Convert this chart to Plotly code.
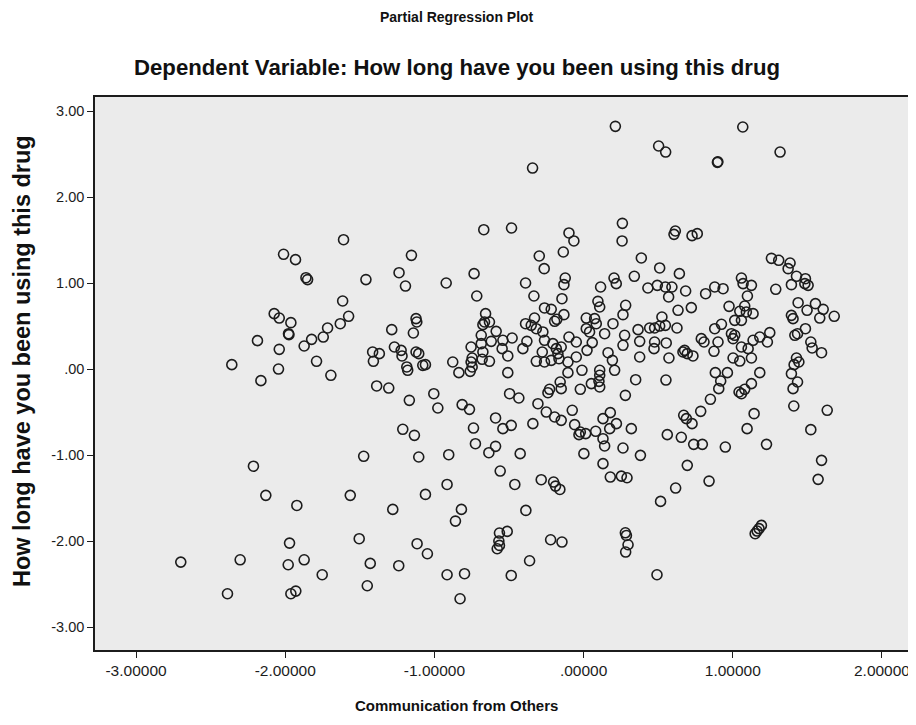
import plotly.graph_objects as go

# Communication from Others (partial residual, x) and
# How long have you been using this drug (partial residual, y)
x_vals = [
    -1.609, -2.011, -1.931, -1.861, -1.85, -1.459,
    0.213, -0.342, -0.669, -0.483, -0.098, -0.065, 0.260, 0.258, -1.154, -1.237, -0.734, -0.297, -0.264, -0.136, -0.123, 0.387, 0.340, 0.204,
    1.067, 0.503, 0.550, 0.897, 0.90, 1.317, 0.615, 0.606, 0.727, 0.762, 0.510, 0.642, 1.259, 1.308, 1.384, 1.371, 1.427, 1.487, 1.058,
    -1.615, -2.074, -2.040, -1.962, -1.978, -1.975, -2.186, -2.040, -2.358, -2.045, -2.163, -1.873, -1.823, -1.745, -1.716, -1.631, -1.575, -1.790, -1.694, -1.474,
    -2.213, -2.130, -1.922, -1.564, -1.971, -1.504, -2.700, -2.302, -1.980, -1.873, -1.752, -1.43, -1.45, -2.387, -1.962, -1.929,
    -0.559, -0.915, -1.060, -1.279, -0.819, -0.859, -0.461, -0.284, -0.201, -0.188, -0.159, -0.387, -0.564, -0.512, -0.568, -0.564, -0.579, -1.116, -1.047, -1.239, -0.221, -0.145, -0.362, -0.915, -0.798, -0.485, -0.828, 0.179, 0.253, 0.291, 0.280, 0.287, 0.298, 0.282,
    0.695, 0.841, 0.617, 0.516, 1.572, 1.595, 1.150, 1.163, 1.176, 1.192, 0.492,
    0.431, 0.494, 0.548, 0.592, 0.684, 0.818, 0.879, 0.935, 1.069, 1.125, 1.288, 1.393, 1.505, 1.483,
    0.570, 0.633, 0.722, 0.975, 1.098, 1.080, 1.047, 1.091, 1.136, 1.013, 1.058, 0.525,
    0.443, 0.476, 0.510, 0.548, 0.626, 0.879, 0.924, 0.991, 1.013, 1.002, 0.789, 0.807, 0.901, 0.874,
    0.476, 0.472, 0.554, 0.572, 0.666, 0.677, 0.695, 0.733,
    1.058, 1.103, 1.136, 1.181, 1.248, 1.232, 1.002, 1.047, 1.125,
    1.393, 1.404, 1.438, 1.498, 1.554, 1.606, 1.583, 1.680, 1.416, 1.434, 1.487, 1.523, 1.532, 1.595,
    1.427, 1.443, 1.411, 1.393, 1.434, 1.404, 1.409, 1.633, 1.523,
    0.552, 0.883, 0.964, 0.919, 0.906, 1.181, 1.125, 1.080, 1.042, 1.058, 0.850, 0.785, 1.143,
    0.671, 0.689, 0.727, 1.096, 0.561, 0.655, 0.738, 0.796, 0.950, 1.226,
    -1.194, -0.921, -0.389, -0.132, 0.114, 0.219, -0.716, -0.333, -0.145, 0.096, 0.108, 0.282, -0.262, -0.217, -0.132, 0.264,
    0.018, 0.074, 0.085, 0.197, 0.018, 0.040, 0.141, 0.365, 0.376, 0.376, 0.275, 0.264, 0.164, 0.193, 0.208,
    0.058, 0.023, -0.049, -0.049, -0.011, -0.098, -0.105, -0.105, 0.108, 0.108, 0.103, 0.108, 0.052, -0.022,
    -0.157, -0.150, -0.228, -0.239, 0.349, 0.280, -0.076, 0.179, 0.130, 0.220, 0.175, 0.320,
    -0.060, -0.022, -0.031, 0.014, 0.081, 0.130, 0.141, 0.264, 0.381, 0.002, 0.130,
    -0.306, -0.250, -0.194, -0.150, -0.340, -0.485, -0.541, -0.590, -0.738, -0.725, -0.590, -0.635, -0.425, -0.904, -1.105,
    -1.212, -1.134, -1.168, -1.004, -0.977, -0.814, -0.765, -1.387, -1.306, -0.496, -0.434, -0.508,
    -1.286, -1.123, -1.118, -1.141, -1.414, -1.369, -1.409, -1.268, -1.223, -1.217, -1.123, -1.105,
    -1.185, -1.179, -1.078, -1.060, -0.877, -0.836, -0.754, -0.747, -0.760, -0.747, -0.754,
    -0.675, -0.680, -0.631, -0.657, -0.664, -0.675, -0.631, -0.586, -0.686, -0.686, -0.619,
    -0.541, -0.546, -0.508, -0.479, -0.407, -0.380, -0.389, -0.329, -0.317, -0.351,
    -0.273, -0.262, -0.277, -0.194, -0.179, -0.206, -0.183, -0.172, -0.165, -0.150, -0.317, -0.262, -0.217,
]
y_vals = [
    1.504, 1.334, 1.272, 1.062, 1.04, 1.04,
    2.822, 2.337, 1.620, 1.640, 1.582, 1.489, 1.694, 1.489, 1.322, 1.120, 1.109, 1.314, 1.167, 1.361, 1.058, 1.291, 1.078, 1.058,
    2.814, 2.593, 2.523, 2.403, 2.41, 2.523, 1.605, 1.566, 1.551, 1.574, 1.175, 1.109, 1.287, 1.264, 1.233, 1.167, 1.078, 1.05, 1.058,
    0.791, 0.644, 0.593, 0.539, 0.411, 0.40, 0.330, 0.229, 0.051, 0.0, -0.135, 0.268, 0.345, 0.372, 0.477, 0.527, 0.613, 0.090, -0.073, -1.015,
    -1.13, -1.469, -1.586, -1.469, -2.024, -1.973, -2.245, -2.218, -2.276, -2.218, -2.392, -2.26, -2.52, -2.613, -2.613, -2.582,
    -1.186, -1.342, -1.458, -1.632, -1.632, -1.768, -1.342, -1.287, -1.314, -1.361, -1.400, -1.644, -1.907, -1.888, -2.000, -2.051, -2.090, -2.031, -2.148, -2.287, -1.985, -2.012, -2.229, -2.392, -2.380, -2.400, -2.671, -1.256, -1.245, -1.264, -1.904, -1.935, -2.043, -2.128,
    -1.12, -1.303, -1.384, -1.539, -1.283, -1.062, -1.915, -1.884, -1.856, -1.818, -2.392,
    0.942, 0.973, 0.954, 0.954, 0.907, 0.876, 0.954, 0.934, 0.993, 0.973, 0.927, 0.981, 0.973, 0.993,
    0.838, 0.683, 0.714, 0.729, 0.849, 0.733, 0.671, 0.663, 0.644, 0.566, 0.566, 0.605,
    0.477, 0.477, 0.500, 0.508, 0.477, 0.469, 0.520, 0.411, 0.392, 0.353, 0.353, 0.314, 0.314, 0.206,
    0.314, 0.237, 0.303, 0.128, 0.198, 0.217, 0.179, 0.152,
    0.256, 0.237, 0.334, 0.372, 0.423, 0.314, 0.128, 0.093, 0.128,
    0.624, 0.586, 0.771, 0.683, 0.760, 0.694, 0.593, 0.613, 0.392, 0.411, 0.469, 0.314, 0.245, 0.190,
    0.128, 0.082, 0.051, -0.054, -0.151, -0.228, -0.430, -0.480, -0.705,
    -0.128, -0.042, -0.042, -0.139, -0.228, -0.042, -0.170, -0.236, -0.267, -0.287, -0.352, -0.492, -0.519,
    -0.538, -0.577, -0.635, -0.693, -0.763, -0.794, -0.876, -0.876, -0.907, -0.876,
    0.965, 1.00, 1.00, 0.981, 0.954, 0.993, 0.849, 0.849, 0.818, 0.787, 0.721, 0.741, 0.710, 0.694, 0.632, 0.632,
    0.593, 0.586, 0.527, 0.527, 0.469, 0.431, 0.411, 0.458, 0.322, 0.140, 0.392, 0.276, 0.190, 0.101, -0.015,
    0.307, 0.217, 0.314, 0.140, -0.015, 0.372, 0.082, -0.042, -0.015, -0.073, -0.143, -0.209, -0.170, -0.236,
    -0.151, -0.228, -0.236, -0.275, -0.124, -0.306, -0.480, -0.507, -0.577, -0.635, -0.693, -0.693,
    -0.647, -0.732, -0.763, -0.751, -0.724, -0.810, -0.895, -0.918, -1.004, -0.984, -1.100,
    -0.403, -0.500, -0.558, -0.597, -0.635, -0.655, -0.693, -0.569, -0.686, -0.868, -0.899, -0.973, -0.984, -0.996, -1.023,
    -0.701, -0.771, -0.364, -0.287, -0.453, -0.414, -0.469, -0.197, -0.221, -0.287, -0.337, -0.042,
    0.458, 0.586, 0.547, 0.419, 0.198, 0.179, 0.090, 0.256, 0.217, 0.152, 0.198, 0.179,
    0.024, -0.015, 0.043, 0.051, 0.082, -0.042, 0.082, 0.024, -0.027, 0.128, 0.256,
    0.198, 0.113, 0.090, 0.644, 0.547, 0.516, 0.547, 0.438, 0.392, 0.295, 0.322,
    0.334, 0.237, 0.152, 0.361, 0.237, 0.322, 0.527, 0.593, 0.469, 0.508,
    0.431, 0.334, 0.198, 0.555, 0.578, 0.295, 0.237, 0.179, 0.120, 0.256, 0.090, 0.082, 0.101,
]

x_ticks = [-3, -2, -1, 0, 1, 2]
x_tick_text = ["-3.00000", "-2.00000", "-1.00000", ".00000", "1.00000", "2.00000"]
y_ticks = [-3, -2, -1, 0, 1, 2, 3]
y_tick_text = ["-3.00", "-2.00", "-1.00", ".00", "1.00", "2.00", "3.00"]

main_title = "Partial Regression Plot"
sub_title = "Dependent Variable: How long have you been using this drug"
x_title = "Communication from Others"
y_title = "How long have you been using this drug"

FONT = "Liberation Sans, Arial, sans-serif"
INK = "#1c1c1c"

fig = go.Figure()
fig.add_trace(go.Scatter(
    x=x_vals, y=y_vals, mode="markers",
    marker=dict(symbol="circle-open", size=10, color=INK, line=dict(width=1.6)),
    showlegend=False, hoverinfo="x+y",
))

axis_common = dict(
    showgrid=False, zeroline=False, showline=True, linecolor=INK, linewidth=1.5,
    mirror=True, ticks="outside", ticklen=6, tickcolor=INK, tickwidth=1,
    automargin=False,
)
fig.update_xaxes(range=[-3.275, 2.208], tickvals=x_ticks, ticktext=x_tick_text,
                 tickfont=dict(family=FONT, size=15.5, color=INK), **axis_common)
fig.update_yaxes(range=[-3.267, 3.163], tickvals=y_ticks, ticktext=y_tick_text,
                 tickfont=dict(family=FONT, size=14.5, color=INK), **axis_common)

fig.update_layout(
    width=908, height=709,
    margin=dict(l=87, r=3, t=89, b=67),
    plot_bgcolor="#ebebeb", paper_bgcolor="white",
    annotations=[
        dict(text="<b>" + main_title + "</b>", x=0.4425, y=1.145, xref="paper", yref="paper",
             xanchor="center", yanchor="middle", showarrow=False,
             font=dict(family=FONT, size=14, color="#111111")),
        dict(text="<b>" + sub_title + "</b>", x=0.4425, y=1.054, xref="paper", yref="paper",
             xanchor="center", yanchor="middle", showarrow=False,
             font=dict(family=FONT, size=22.2, color="#111111")),
        dict(text="<b>" + x_title + "</b>", x=0.4425, y=-0.0995, xref="paper", yref="paper",
             xanchor="center", yanchor="middle", showarrow=False,
             font=dict(family=FONT, size=15, color="#111111")),
        dict(text="<b>" + y_title + "</b>", x=-0.0892, y=0.5226, xref="paper", yref="paper",
             xanchor="center", yanchor="middle", showarrow=False, textangle=-90,
             font=dict(family=FONT, size=23.5, color="#111111")),
    ],
)

fig.write_html("out.html")
